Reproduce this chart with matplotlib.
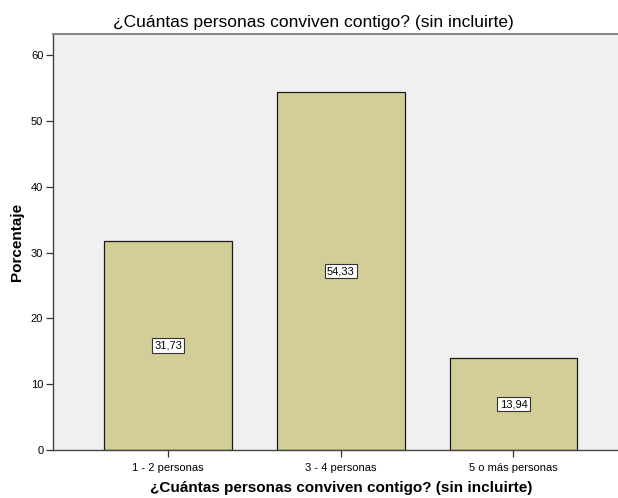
import matplotlib
matplotlib.use("Agg")
from matplotlib import pyplot as plt

plt.rcParams['font.family'] = ['Liberation Sans', 'DejaVu Sans']

categorias = ['1 - 2 personas', '3 - 4 personas', '5 o más personas']
porcentajes = [31.73, 54.33, 13.94]
etiquetas = ['31,73', '54,33', '13,94']
titulo = '¿Cuántas personas conviven contigo? (sin incluirte)'

fig = plt.figure(figsize=(6.18, 4.98), dpi=100)
# axes runs a little past the right edge, like the original export
ax = fig.add_axes([53 / 618, 48 / 498, 575.5 / 618, 416 / 498])
ax.set_facecolor('#f0f0f0')

pos = range(len(categorias))
ax.bar(pos, porcentajes, width=0.74, color='#d3ce97', edgecolor='#1a1a1a', linewidth=0.9, zorder=2)

for i, v in enumerate(porcentajes):
    ax.text(i, v / 2, etiquetas[i], ha='center', va='center', fontsize=8, zorder=3,
            bbox=dict(boxstyle='square,pad=0.2', facecolor='white', edgecolor='#333333', linewidth=0.8))

ax.set_xlim(-0.666, 2.666)
ax.set_ylim(0, 63.2)
ax.set_xticks(list(pos))
ax.set_xticklabels(categorias, fontsize=8)
ax.set_yticks([0, 10, 20, 30, 40, 50, 60])
ax.tick_params(axis='both', labelsize=8, length=5, width=0.9, color='#333333', pad=2)
ax.tick_params(axis='x', pad=4)

for s in ['left', 'bottom']:
    ax.spines[s].set_color('#444444')
    ax.spines[s].set_linewidth(1.0)
ax.spines['top'].set_color('#888888')
ax.spines['top'].set_linewidth(1.5)
ax.spines['right'].set_visible(False)

ax.set_ylabel('Porcentaje', fontsize=11, fontweight='bold', labelpad=5)
ax.set_xlabel(titulo, fontsize=11, fontweight='bold', labelpad=6)
fig.text(313 / 618, 1 - 23 / 498, titulo, ha='center', va='center', fontsize=12.5)

fig.savefig('out.png', dpi=100)
